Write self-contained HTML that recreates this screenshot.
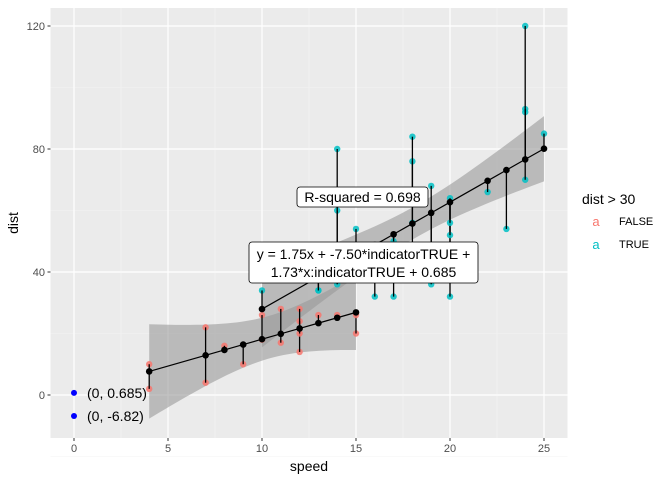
<!DOCTYPE html>
<html><head><meta charset="utf-8"><style>
body{margin:0;background:#fff;font-family:"Liberation Sans",sans-serif}
svg text{font-family:"Liberation Sans",sans-serif}
</style></head><body>
<svg id="c" width="672" height="480" xmlns="http://www.w3.org/2000/svg">
<rect x="50.5" y="8" width="517" height="430" fill="#ebebeb"/>
<g id="grid"></g>
<g id="bands"></g>
<g id="marks"></g>
<g id="axes"></g>
<text x="309" y="471" font-size="14" text-anchor="middle">speed</text>
<text x="18" y="223" font-size="14" text-anchor="middle" transform="rotate(-90 18 223)">dist</text>
<text x="582" y="204" font-size="14">dist &gt; 30</text>
<g><text x="596" y="226" font-size="13" fill="#F8766D" text-anchor="middle">a</text><text x="619" y="225" font-size="11">FALSE</text></g>
<g><text x="596" y="249" font-size="13" fill="#00BFC4" text-anchor="middle">a</text><text x="619" y="248" font-size="11">TRUE</text></g>
</svg>
<script>
const speed=[4,4,7,7,8,9,10,10,10,11,11,12,12,12,12,13,13,13,13,14,14,14,14,15,15,15,16,16,17,17,17,18,18,18,18,19,19,19,20,20,20,20,20,22,23,24,24,24,24,25];
const dist=[2,10,4,22,16,10,18,26,34,17,28,14,20,24,28,26,34,34,46,26,36,60,80,20,26,54,32,40,32,40,50,42,56,76,84,36,46,68,32,48,52,56,64,66,54,70,92,93,120,85];
const xTicks=[0,5,10,15,20,25];
const yTicks=[0,40,80,120];
const labelPoints=[0.685,-6.82];
const NS="http://www.w3.org/2000/svg";
const X=v=>74+v*18.8, Y=v=>395-v*3.075;
function mk(t,a,p){const e=document.createElementNS(NS,t);for(const k in a)e.setAttribute(k,a[k]);document.getElementById(p).appendChild(e);return e;}
[2.5,7.5,12.5,17.5,22.5].forEach(v=>{const l=mk('line',{x1:X(v),x2:X(v),y1:8,y2:438,stroke:'#f4f4f4','stroke-width':0.6},'grid');});
[-20,20,60,100].forEach(v=>{const l=mk('line',{x1:50.5,x2:567.5,y1:Y(v),y2:Y(v),stroke:'#f4f4f4','stroke-width':0.6},'grid');});
xTicks.forEach(v=>{const l=mk('line',{x1:X(v),x2:X(v),y1:8,y2:438,stroke:'#fff','stroke-width':1.2},'grid');
 const t=mk('line',{x1:X(v),x2:X(v),y1:438,y2:441,stroke:'#333'},'axes');
 const s=mk('text',{x:X(v),y:452,'font-size':11,fill:'#4d4d4d','text-anchor':'middle'},'axes');s.textContent=v;});
yTicks.forEach(v=>{const l=mk('line',{x1:50.5,x2:567.5,y1:Y(v),y2:Y(v),stroke:'#fff','stroke-width':1.2},'grid');
 const t=mk('line',{x1:47.5,x2:50.5,y1:Y(v),y2:Y(v),stroke:'#333'},'axes');
 const s=mk('text',{x:45,y:Y(v)+4,'font-size':11,fill:'#4d4d4d','text-anchor':'end'},'axes');s.textContent=v;});
function fit(g){const xs=[],ys=[];speed.forEach((s,i)=>{if((dist[i]>30)===g){xs.push(s);ys.push(dist[i]);}});
 const n=xs.length,mx=xs.reduce((a,b)=>a+b)/n,my=ys.reduce((a,b)=>a+b)/n;let sxx=0,sxy=0;xs.forEach((x,i)=>{sxx+=(x-mx)**2;sxy+=(x-mx)*(ys[i]-my);});
 const b=sxy/sxx,a=my-b*mx;let rss=0;xs.forEach((x,i)=>rss+=(ys[i]-a-b*x)**2);
 return {xs,ys,a,b,mx,sxx,rss,n,f:x=>a+b*x};}
const fits=[fit(false),fit(true)];
const sigma=Math.sqrt((fits[0].rss+fits[1].rss)/(speed.length-4));
fits.forEach((F,gi)=>{const g=gi===1;const se=x=>2.013*sigma*Math.sqrt(1/F.n+(x-F.mx)**2/F.sxx);
 const lo=Math.min(...F.xs),hi=Math.max(...F.xs);const up=[],dn=[];
 for(let k=0;k<=40;k++){const x=lo+(hi-lo)*k/40;up.push(X(x)+','+Y(F.f(x)+se(x)));dn.unshift(X(x)+','+Y(F.f(x)-se(x)));}
 const p=mk('polygon',{points:up.concat(dn).join(' '),fill:'#999',opacity:0.6},'bands');
 const col=g?'#00BFC4':'#F8766D';
 F.xs.forEach((x,i)=>{const c=mk('circle',{cx:X(x),cy:Y(F.ys[i]),r:3.2,fill:col,opacity:0.85},'marks');
  const l=mk('line',{x1:X(x),x2:X(x),y1:Y(F.ys[i]),y2:Y(F.f(x)),stroke:'#000','stroke-width':1.3},'marks');});
 const ux=[...new Set(F.xs)].sort((a,b)=>a-b);
 const pl=mk('polyline',{points:ux.map(x=>X(x)+','+Y(F.f(x))).join(' '),fill:'none',stroke:'#000','stroke-width':1.2},'marks');
 ux.forEach(x=>{const c=mk('circle',{cx:X(x),cy:Y(F.f(x)),r:3.3,fill:'#000'},'marks');});
});
labelPoints.forEach(v=>{const c=mk('circle',{cx:X(0),cy:Y(v),r:3,fill:'#0000ff'},'marks');
 const t=mk('text',{x:X(0)+13,y:Y(v)+5,'font-size':14},'marks');t.textContent='(0, '+v+')';});
</script>
<svg width="672" height="480" style="position:absolute;left:0;top:0">
<g><rect x="297" y="187" width="131" height="20" rx="3" fill="#fff" stroke="#000" stroke-width="0.8"/><text x="362.5" y="202" font-size="14" text-anchor="middle">R-squared = 0.698</text></g>
<g><rect x="249" y="242" width="229" height="41" rx="3" fill="#fff" stroke="#000" stroke-width="0.8"/><text x="363.5" y="259" font-size="14" text-anchor="middle">y = 1.75x + -7.50*indicatorTRUE +</text><text x="363.5" y="277" font-size="14" text-anchor="middle">1.73*x:indicatorTRUE + 0.685</text></g>
</svg>
</body></html>
